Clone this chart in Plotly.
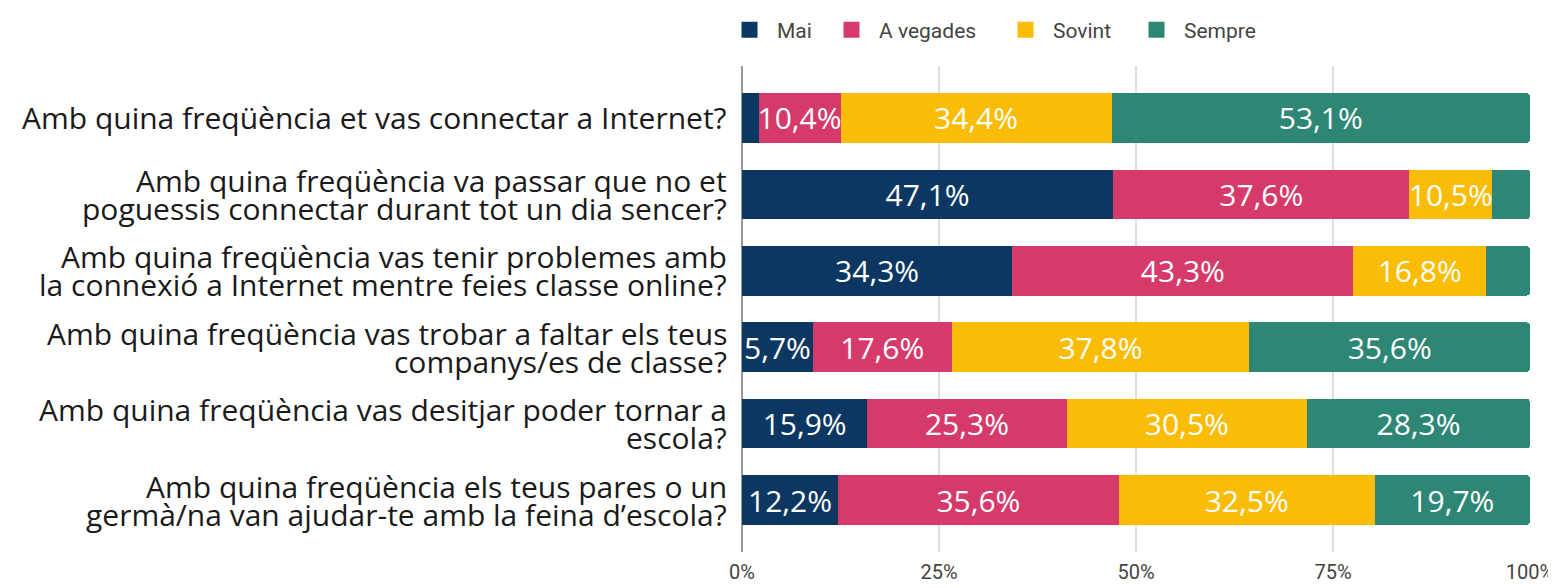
import plotly.graph_objects as go

question_lines = [
    ["Amb quina freqüència et vas connectar a Internet?"],
    ["Amb quina freqüència va passar que no et", "poguessis connectar durant tot un dia sencer?"],
    ["Amb quina freqüència vas tenir problemes amb", "la connexió a Internet mentre feies classe online?"],
    ["Amb quina freqüència vas trobar a faltar els teus", "companys/es de classe?"],
    ["Amb quina freqüència vas desitjar poder tornar a", "escola?"],
    ["Amb quina freqüència els teus pares o un", "germà/na van ajudar-te amb la feina d’escola?"],
]

series_names = ["Mai", "A vegades", "Sovint", "Sempre"]
series_colors = ["#0b3762", "#d63a6b", "#fbbc05", "#2e8774"]

mai = [2.1, 47.1, 34.3, 9.0, 15.9, 12.2]
avegades = [10.4, 37.6, 43.3, 17.6, 25.3, 35.6]
sovint = [34.4, 10.5, 16.8, 37.8, 30.5, 32.5]
sempre = [53.1, 4.8, 5.6, 35.6, 28.3, 19.7]

mai_labels = ["", "47,1%", "34,3%", "5,7%", "15,9%", "12,2%"]
avegades_labels = ["10,4%", "37,6%", "43,3%", "17,6%", "25,3%", "35,6%"]
sovint_labels = ["34,4%", "10,5%", "16,8%", "37,8%", "30,5%", "32,5%"]
sempre_labels = ["53,1%", "", "", "35,6%", "28,3%", "19,7%"]

x_ticks = [0, 25, 50, 75, 100]
x_tick_labels = ["0%", "25%", "50%", "75%", "100%"]

values = [mai, avegades, sovint, sempre]
labels = [mai_labels, avegades_labels, sovint_labels, sempre_labels]
cats = list(range(len(question_lines)))

# pixel x-positions (container) of each legend entry
legend_x_px = [714, 816, 990, 1121]
legend_ids = ["legend", "legend2", "legend3", "legend4"]

fig = go.Figure()
for name, color, vals, txt in zip(series_names, series_colors, values, labels):
    fig.add_trace(go.Bar(
        y=cats,
        x=vals,
        name=name,
        orientation="h",
        marker=dict(color=color, line=dict(width=0)),
        text=txt,
        textposition="inside",
        insidetextanchor="middle",
        textangle=0,
        constraintext="none",
        insidetextfont=dict(family="Open Sans", size=30, color="white"),
        hoverinfo="skip",
        showlegend=False,
    ))

# legend entries with larger square symbols, each in its own legend box
for name, color, lid in zip(series_names, series_colors, legend_ids):
    fig.add_trace(go.Scatter(
        x=[None], y=[None], mode="markers", name=name,
        marker=dict(symbol="square", size=20, color=color),
        showlegend=True, legend=lid,
    ))

# y-axis labels as per-line annotations (tight line spacing)
line_gap = 28
for i, lines in enumerate(question_lines):
    n = len(lines)
    for j, line in enumerate(lines):
        offset = (j - (n - 1) / 2) * line_gap
        fig.add_annotation(
            x=0, xref="paper", y=i, yref="y",
            text=line, showarrow=False,
            xanchor="right", yanchor="middle",
            xshift=-13, yshift=-offset,
            font=dict(family="Open Sans", size=30, color="#1a1a1a"),
        )

legend_style = dict(
    orientation="h",
    xref="container", yref="container",
    xanchor="left",
    y=1 - 22 / 588,
    yanchor="middle",
    font=dict(family="Roboto", size=21, color="#444"),
    itemwidth=45,
    bgcolor="rgba(0,0,0,0)",
)

layout_legends = {}
for lid, px in zip(legend_ids, legend_x_px):
    layout_legends[lid] = dict(legend_style, x=px / 1556)

fig.update_layout(
    barmode="stack",
    bargap=0.35,
    barcornerradius=4,
    width=1556,
    height=588,
    margin=dict(l=734, r=34, t=58, b=44, autoexpand=False),
    paper_bgcolor="white",
    plot_bgcolor="white",
    showlegend=True,
    xaxis=dict(
        range=[0, 100],
        tickvals=x_ticks,
        ticktext=x_tick_labels,
        showgrid=True,
        gridcolor="#dedede",
        gridwidth=2,
        zeroline=True,
        zerolinecolor="#999",
        zerolinewidth=2,
        tickfont=dict(family="Roboto", size=20, color="#444"),
        ticks="",
        ticklabelstandoff=6,
        automargin=False,
        fixedrange=True,
    ),
    yaxis=dict(
        tickvals=cats,
        range=[5.68, -0.68],
        showgrid=False,
        zeroline=False,
        showticklabels=False,
        ticks="",
        automargin=False,
    ),
    **layout_legends,
)

fig.write_html("out.html")
